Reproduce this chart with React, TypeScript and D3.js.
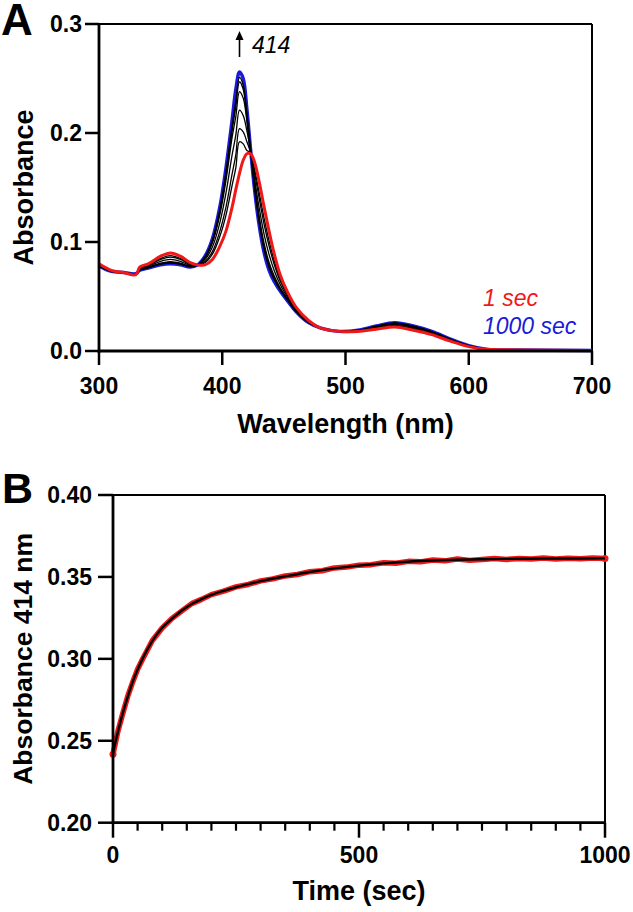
import React from 'react';
import * as d3 from 'd3';

// ---------- Panel A: spectra ----------
const wavelengths = [300, 310, 320, 330, 333, 340, 350, 358, 366, 374, 380, 386, 392, 398, 403, 408, 411, 414, 417, 420, 423, 426, 430, 434, 438, 442, 447, 453, 460, 470, 480, 495, 510, 525, 540, 555, 570, 585, 600, 615, 640, 700];

const spec1s = [0.080, 0.074, 0.072, 0.070, 0.077, 0.080, 0.087, 0.090, 0.087, 0.081, 0.079, 0.079, 0.084, 0.096, 0.110, 0.132, 0.148, 0.163, 0.175, 0.181, 0.181, 0.174, 0.155, 0.132, 0.110, 0.090, 0.070, 0.054, 0.040, 0.028, 0.021, 0.018, 0.018, 0.020, 0.022, 0.019, 0.015, 0.009, 0.004, 0.0015, 0.001, 0.0005];

const spec1000s = [0.078, 0.073, 0.072, 0.071, 0.074, 0.076, 0.079, 0.080, 0.079, 0.077, 0.079, 0.087, 0.103, 0.132, 0.168, 0.212, 0.240, 0.256, 0.250, 0.222, 0.185, 0.150, 0.115, 0.090, 0.074, 0.064, 0.055, 0.046, 0.036, 0.026, 0.021, 0.018, 0.019, 0.023, 0.026, 0.023, 0.018, 0.011, 0.005, 0.0015, 0.001, 0.0005];

const specMid1 = [0.0795, 0.0738, 0.072, 0.0703, 0.0763, 0.079, 0.085, 0.0875, 0.085, 0.080, 0.079, 0.081, 0.0888, 0.105, 0.1245, 0.152, 0.168, 0.192, 0.190, 0.184, 0.182, 0.168, 0.145, 0.1215, 0.101, 0.0835, 0.0663, 0.052, 0.039, 0.0275, 0.021, 0.018, 0.0183, 0.0208, 0.023, 0.020, 0.0158, 0.0095, 0.0043, 0.0015, 0.001, 0.0005];
const specMid2 = [0.0792, 0.0736, 0.072, 0.0704, 0.0759, 0.0785, 0.0840, 0.0862, 0.0840, 0.0795, 0.079, 0.0820, 0.0912, 0.1097, 0.1320, 0.1624, 0.180, 0.204, 0.201, 0.192, 0.1825, 0.1649, 0.1398, 0.1160, 0.0963, 0.0801, 0.0643, 0.0510, 0.0385, 0.0272, 0.021, 0.018, 0.0184, 0.0211, 0.0235, 0.0205, 0.0161, 0.0098, 0.0044, 0.0015, 0.001, 0.0005];
const specMid3 = [0.0788, 0.0734, 0.072, 0.0706, 0.0752, 0.0776, 0.0822, 0.084, 0.0822, 0.0786, 0.079, 0.0838, 0.0954, 0.1176, 0.1448, 0.180, 0.198, 0.221, 0.216, 0.202, 0.1834, 0.1596, 0.131, 0.1068, 0.0884, 0.0744, 0.061, 0.0492, 0.0376, 0.0268, 0.021, 0.018, 0.0186, 0.0218, 0.0244, 0.0214, 0.0168, 0.0102, 0.0046, 0.0015, 0.001, 0.0005];
const specMid4 = [0.0784, 0.0732, 0.072, 0.0708, 0.0746, 0.0768, 0.0806, 0.082, 0.0806, 0.0778, 0.079, 0.0854, 0.0992, 0.1248, 0.1564, 0.196, 0.215, 0.238, 0.232, 0.211, 0.1842, 0.1548, 0.123, 0.0984, 0.0812, 0.0692, 0.058, 0.0476, 0.0368, 0.0264, 0.021, 0.018, 0.0188, 0.0224, 0.0252, 0.0222, 0.0174, 0.0106, 0.0048, 0.0015, 0.001, 0.0005];
const specMid5 = [0.0782, 0.0731, 0.072, 0.0709, 0.0744, 0.0765, 0.0800, 0.0812, 0.0800, 0.0775, 0.079, 0.0860, 0.1007, 0.1277, 0.1610, 0.2024, 0.224, 0.247, 0.240, 0.216, 0.1845, 0.1529, 0.1198, 0.0950, 0.0783, 0.0671, 0.0568, 0.0470, 0.0365, 0.0262, 0.021, 0.018, 0.0189, 0.0226, 0.0255, 0.0225, 0.0176, 0.0108, 0.0049, 0.0015, 0.001, 0.0005];
const specMid6 = [0.0781, 0.0731, 0.072, 0.0709, 0.0742, 0.0763, 0.0796, 0.0807, 0.0796, 0.0773, 0.079, 0.0864, 0.1017, 0.1295, 0.1639, 0.2064, 0.229, 0.251, 0.244, 0.218, 0.1847, 0.1517, 0.1178, 0.0929, 0.0765, 0.0658, 0.0561, 0.0466, 0.0363, 0.0261, 0.021, 0.018, 0.0189, 0.0228, 0.0257, 0.0227, 0.0178, 0.0109, 0.0049, 0.0015, 0.001, 0.0005];
const midSpectra = [specMid1, specMid2, specMid3, specMid4, specMid5, specMid6];

const aXTicks = [300, 400, 500, 600, 700];
const aYTicks = [0, 0.1, 0.2, 0.3];
const aYTickLabels = ['0.0', '0.1', '0.2', '0.3'];

// ---------- Panel B: kinetics at 414 nm ----------
const dataTimes = [0, 10, 20, 30, 40, 50, 60, 80, 100, 120, 140, 160, 180, 200, 225, 250, 275, 300, 325, 350, 375, 400, 425, 450, 475, 500, 525, 550, 575, 600, 625, 650, 675, 700, 725, 750, 775, 800, 825, 850, 875, 900, 925, 950, 975, 1000];
const dataAbs = [0.2418, 0.2558, 0.2668, 0.2772, 0.2858, 0.2937, 0.2998, 0.3112, 0.3188, 0.3247, 0.3293, 0.3337, 0.3363, 0.3392, 0.3413, 0.3439, 0.3454, 0.3476, 0.3488, 0.3506, 0.3515, 0.3532, 0.3538, 0.3555, 0.3560, 0.3572, 0.3575, 0.3586, 0.3584, 0.3595, 0.3592, 0.3603, 0.3598, 0.3609, 0.3601, 0.3606, 0.3612, 0.3607, 0.3613, 0.3609, 0.3615, 0.3610, 0.3614, 0.3611, 0.3615, 0.3612];

const fitTimes = [0, 10, 20, 30, 40, 50, 60, 80, 100, 120, 140, 160, 180, 200, 225, 250, 275, 300, 350, 400, 450, 500, 550, 600, 650, 700, 750, 800, 850, 900, 950, 1000];
const fitAbs = [0.2424, 0.2555, 0.2670, 0.2770, 0.2860, 0.2935, 0.3000, 0.3110, 0.3190, 0.3245, 0.3295, 0.3335, 0.3365, 0.3390, 0.3415, 0.3437, 0.3456, 0.3474, 0.3503, 0.3530, 0.3552, 0.3569, 0.3583, 0.3593, 0.3600, 0.3605, 0.3608, 0.3610, 0.3611, 0.3612, 0.3612, 0.3613];

const bXTicks = [0, 500, 1000];
const bXMinor = [50, 100, 150, 200, 250, 300, 350, 400, 450, 550, 600, 650, 700, 750, 800, 850, 900, 950];
const bYTicks = [0.2, 0.25, 0.3, 0.35, 0.4];
const bYTickLabels = ['0.20', '0.25', '0.30', '0.35', '0.40'];

const FONT = '"Liberation Sans", Arial, Helvetica, sans-serif';
const RED = '#f01818';
const BLUE = '#1a1ad8';

export default function App() {
  // Panel A scales
  const xA = d3.scaleLinear().domain([300, 700]).range([99, 592]);
  const yA = d3.scaleLinear().domain([0, 0.3]).range([351, 24]);
  // Panel B scales
  const xB = d3.scaleLinear().domain([0, 1000]).range([113, 605]);
  const yB = d3.scaleLinear().domain([0.2, 0.4]).range([822.7, 495]);

  const lineA = (vals: number[]) =>
    d3.line<number>()
      .x((_, i) => xA(wavelengths[i]))
      .y((d) => yA(d))
      .curve(d3.curveCatmullRom.alpha(0.5))(vals) || '';

  const dataLine = d3.line<number>()
    .x((_, i) => xB(dataTimes[i]))
    .y((d) => yB(d))
    .curve(d3.curveLinear)(dataAbs) || '';
  const fitLine = d3.line<number>()
    .x((_, i) => xB(fitTimes[i]))
    .y((d) => yB(d))
    .curve(d3.curveMonotoneX)(fitAbs) || '';

  const axisW = 2.8;
  const frameW = 2;

  const [aX0, aX1] = xA.range();
  const [aY0, aY1] = yA.range();
  const [bX0, bX1] = xB.range();
  const [bY0, bY1] = yB.range();

  return (
    <svg width={633} height={912} style={{ position: 'absolute', left: 0, top: 0, background: '#fff' }} fontFamily={FONT}>
      {/* ===== Panel A ===== */}
      <text x={1} y={35} fontSize={44} fontWeight="bold">A</text>
      {/* frame */}
      <line x1={aX0} x2={aX1} y1={aY1} y2={aY1} stroke="#000" strokeWidth={frameW} />
      <line x1={aX1} x2={aX1} y1={aY1} y2={aY0} stroke="#000" strokeWidth={frameW} />
      {/* spectra */}
      <path d={lineA(spec1000s)} fill="none" stroke={BLUE} strokeWidth={3.4} strokeLinejoin="round" />
      {midSpectra.map((s, i) => (
        <path key={i} d={lineA(s)} fill="none" stroke="#000" strokeWidth={1.3} strokeLinejoin="round" />
      ))}
      <path d={lineA(spec1s)} fill="none" stroke={RED} strokeWidth={3} strokeLinejoin="round" />
      {/* axes */}
      <line x1={aX0} x2={aX0} y1={aY1 - 1} y2={aY0 + 1.4} stroke="#000" strokeWidth={axisW} />
      <line x1={aX0 - 1.4} x2={aX1 + 1} y1={aY0} y2={aY0} stroke="#000" strokeWidth={axisW} />
      {aYTicks.map((t, i) => (
        <g key={i}>
          <line x1={aX0 - 14} x2={aX0} y1={yA(t)} y2={yA(t)} stroke="#000" strokeWidth={2.5} />
          <text x={82} y={yA(t)} dy="0.36em" textAnchor="end" fontSize={23} fontWeight="bold">{aYTickLabels[i]}</text>
        </g>
      ))}
      {aXTicks.map((t) => (
        <g key={t}>
          <line x1={xA(t)} x2={xA(t)} y1={aY0} y2={aY0 + 14} stroke="#000" strokeWidth={2.5} />
          <text x={xA(t)} y={394} textAnchor="middle" fontSize={23} fontWeight="bold">{t}</text>
        </g>
      ))}
      <text x={(aX0 + aX1) / 2} y={433} textAnchor="middle" fontSize={27} fontWeight="bold">Wavelength (nm)</text>
      <text transform={`translate(33,${(aY0 + aY1) / 2}) rotate(-90)`} textAnchor="middle" fontSize={27} fontWeight="bold">Absorbance</text>
      {/* annotation */}
      <line x1={xA(414)} x2={xA(414)} y1={57} y2={38} stroke="#000" strokeWidth={1.6} />
      <path d={`M${xA(414) - 4},${40} L${xA(414)},${31} L${xA(414) + 4},${40} Z`} fill="#000" />
      <text x={252} y={53} fontSize={23} fontStyle="italic">414</text>
      {/* legend */}
      <text x={483} y={306} fontSize={23} fontStyle="italic" fill={RED}>1 sec</text>
      <text x={483} y={334} fontSize={23} fontStyle="italic" fill={BLUE}>1000 sec</text>

      {/* ===== Panel B ===== */}
      <text x={2} y={503} fontSize={43} fontWeight="bold">B</text>
      <line x1={bX0} x2={bX1} y1={bY1} y2={bY1} stroke="#000" strokeWidth={frameW} />
      <line x1={bX1} x2={bX1} y1={bY1} y2={bY0} stroke="#000" strokeWidth={frameW} />
      <path d={dataLine} fill="none" stroke={RED} strokeWidth={5.5} strokeLinejoin="round" strokeLinecap="round" />
      <circle cx={xB(dataTimes[0])} cy={yB(dataAbs[0])} r={3.5} fill={RED} />
      <circle cx={xB(dataTimes[dataTimes.length - 1])} cy={yB(dataAbs[dataAbs.length - 1])} r={3.5} fill={RED} />
      <path d={fitLine} fill="none" stroke="#000" strokeWidth={2.4} strokeLinejoin="round" />
      <line x1={bX0} x2={bX0} y1={bY1 - 1} y2={bY0 + 1.4} stroke="#000" strokeWidth={axisW} />
      <line x1={bX0 - 1.4} x2={bX1 + 1} y1={bY0} y2={bY0} stroke="#000" strokeWidth={axisW} />
      {bYTicks.map((t, i) => (
        <g key={i}>
          <line x1={bX0 - 15} x2={bX0} y1={yB(t)} y2={yB(t)} stroke="#000" strokeWidth={2.5} />
          <text x={92} y={yB(t)} dy="0.36em" textAnchor="end" fontSize={23} fontWeight="bold">{bYTickLabels[i]}</text>
        </g>
      ))}
      {bXMinor.map((t) => (
        <line key={t} x1={xB(t)} x2={xB(t)} y1={bY0} y2={bY0 + 8} stroke="#000" strokeWidth={2.2} />
      ))}
      {bXTicks.map((t) => (
        <g key={t}>
          <line x1={xB(t)} x2={xB(t)} y1={bY0} y2={bY0 + 15} stroke="#000" strokeWidth={2.5} />
          <text x={xB(t)} y={863} textAnchor="middle" fontSize={23} fontWeight="bold">{t}</text>
        </g>
      ))}
      <text x={(bX0 + bX1) / 2} y={900} textAnchor="middle" fontSize={27} fontWeight="bold">Time (sec)</text>
      <text transform={`translate(32,${(bY0 + bY1) / 2}) rotate(-90)`} textAnchor="middle" fontSize={26.5} fontWeight="bold">Absorbance 414 nm</text>
    </svg>
  );
}
